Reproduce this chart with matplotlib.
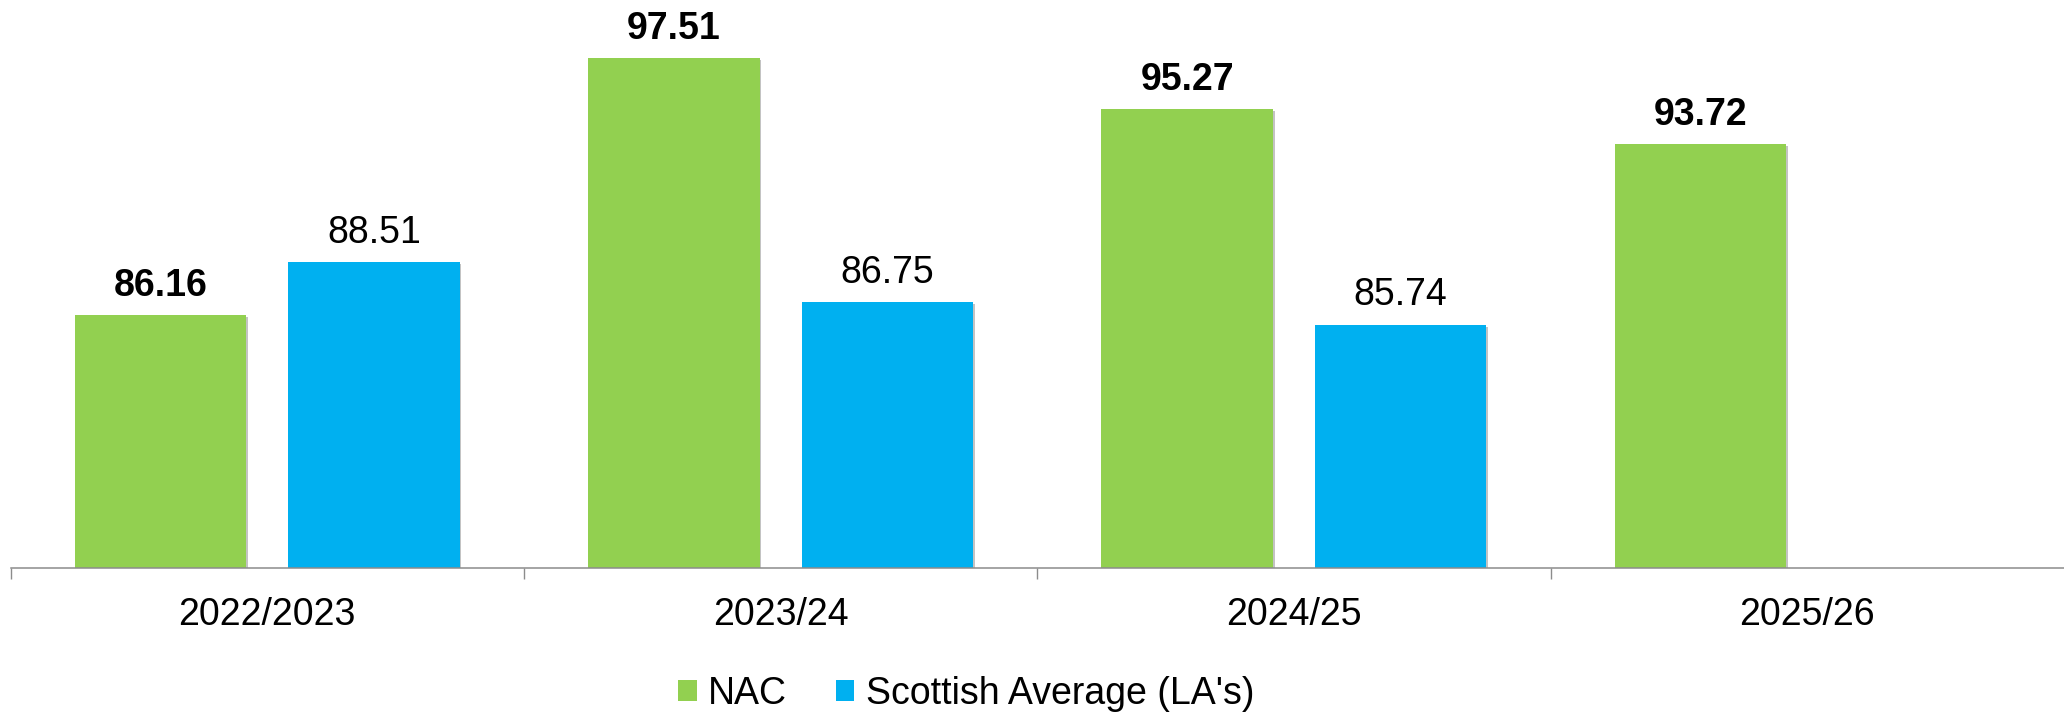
import matplotlib
matplotlib.use('Agg')
from matplotlib import pyplot as plt
from matplotlib.patches import Patch
import matplotlib.patheffects as pe
import numpy as np

years = ['2022/2023', '2023/24', '2024/25', '2025/26']
nac = [86.16, 97.51, 95.27, 93.72]
scot_avg = [88.51, 86.75, 85.74, None]

green = '#92D050'
blue = '#00B0F0'
grey = '#8C8C8C'

plt.rcParams['font.family'] = ['Liberation Sans', 'DejaVu Sans']
fs = 27

fig = plt.figure(figsize=(20.64, 7.14), dpi=100)
ax = fig.add_axes([10.5 / 2064, 146 / 714, 2053.5 / 2064, 566 / 714])

x = np.arange(len(years))
breite = 0.334
versatz = 0.208
schatten = [pe.SimplePatchShadow(offset=(1.2, -1.2), shadow_rgbFace='#888888', alpha=0.5), pe.Normal()]

for i in range(len(years)):
  b = ax.bar(x[i] - versatz, nac[i] - 75, bottom=75, width=breite, color=green, zorder=2)
  b[0].set_path_effects(schatten)
  ax.annotate('%.2f' % nac[i], (x[i] - versatz, nac[i]), xytext=(0, 14), textcoords='offset points',
              ha='center', va='baseline', fontsize=fs, fontweight='bold', annotation_clip=False)
  if scot_avg[i] is not None:
    b = ax.bar(x[i] + versatz, scot_avg[i] - 75, bottom=75, width=breite, color=blue, zorder=2)
    b[0].set_path_effects(schatten)
    ax.annotate('%.2f' % scot_avg[i], (x[i] + versatz, scot_avg[i]), xytext=(0, 14), textcoords='offset points',
                ha='center', va='baseline', fontsize=fs, annotation_clip=False)

ax.set_xlim(-0.5, len(years) - 0.5)
ax.set_ylim(75, 100)

for s in ['top', 'right', 'left']:
  ax.spines[s].set_visible(False)
ax.spines['bottom'].set_color(grey)
ax.spines['bottom'].set_linewidth(1.1)

ax.set_yticks([])
ax.set_xticks(x)
ax.set_xticklabels(years, fontsize=fs)
ax.tick_params(axis='x', which='major', length=0, pad=21)
ax.set_xticks(np.arange(len(years)) - 0.5, minor=True)
ax.tick_params(axis='x', which='minor', length=8, width=1, color=grey, direction='out')

handles = [Patch(facecolor=green, label='NAC'), Patch(facecolor=blue, label="Scottish Average (LA's)")]
fig.legend(handles=handles, loc='center', bbox_to_anchor=(966 / 2064, 20 / 714), ncol=2, frameon=False,
           fontsize=fs, handlelength=0.5, handleheight=0.5, handletextpad=0.3, columnspacing=1.3,
           borderpad=0, borderaxespad=0)

plt.savefig('out.png', dpi=100)
plt.close()
